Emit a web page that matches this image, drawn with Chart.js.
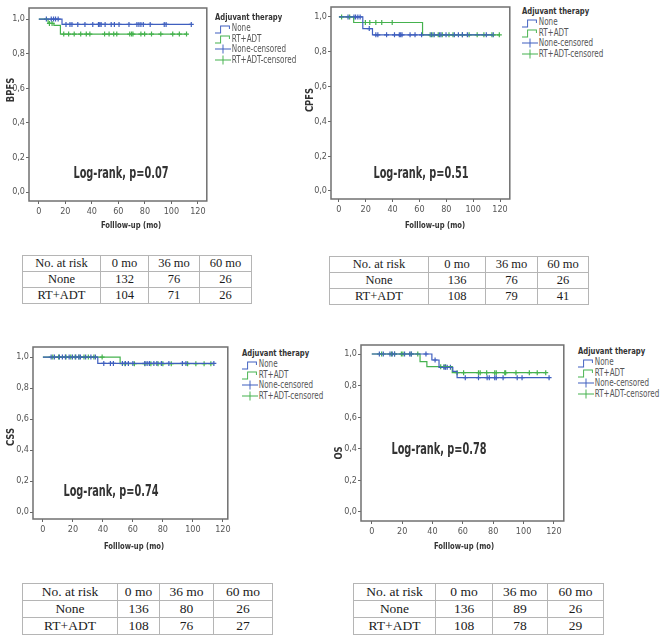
<!DOCTYPE html>
<html>
<head>
<meta charset="utf-8">
<script src="https://cdn.jsdelivr.net/npm/chart.js@4.4.1/dist/chart.umd.min.js"></script>
<style>
  body { margin: 0; width: 664px; height: 644px; background: #fff; position: relative; overflow: hidden;
         font-family: "Liberation Sans Narrow", "DejaVu Sans Condensed", sans-serif; color: #444; }
  canvas { position: absolute; }
  .t { position: absolute; white-space: nowrap; transform: translate(-50%, -50%); }
  .ytitle { font-weight: bold; font-size: 11px; color: #333; transform: translate(-50%, -50%) rotate(-90deg) scaleX(0.85); }
  .xtitle { font-weight: bold; font-size: 9.5px; color: #333; transform: translate(-50%, -50%) scaleX(0.8); }
  .logrank { font-weight: bold; font-size: 15.5px; color: #333; transform: translate(-50%, -50%) scaleX(0.7); }
  .legend { position: absolute; font-size: 10px; color: #555; line-height: 10.4px; white-space: nowrap;
            transform: scaleX(0.8); transform-origin: 0 0; }
  .legend b { display: block; color: #333; font-size: 9.5px; margin-bottom: 1px; }
  .legend div { display: flex; align-items: center; height: 10.4px; }
  .legend svg { width: 20px; height: 10px; margin-right: 1px; }
  table.risk { position: absolute; border-collapse: collapse; font-family: "Liberation Serif", serif; color: #1a1a1a;
               border: 1.5px solid #8a8a8a; table-layout: fixed; }
  table.risk td { border: 1px solid #b5b5b5; text-align: center; padding: 0; }
</style>
</head>
<body>

<canvas id="bpfs" width="212" height="232" style="left:0;top:0"></canvas>
<canvas id="cpfs" width="215" height="232" style="left:300px;top:0"></canvas>
<canvas id="css" width="233" height="220" style="left:0;top:335px"></canvas>
<canvas id="os" width="239" height="220" style="left:330px;top:335px"></canvas>

<div class="t ytitle" style="left:10px;top:90px">BPFS</div>
<div class="t ytitle" style="left:309px;top:100px">CPFS</div>
<div class="t ytitle" style="left:10px;top:437px">CSS</div>
<div class="t ytitle" style="left:338px;top:453px">OS</div>

<div class="t xtitle" style="left:131px;top:224px">Folllow-up (mo)</div>
<div class="t xtitle" style="left:435px;top:224px">Folllow-up (mo)</div>
<div class="t xtitle" style="left:134px;top:545px">Folllow-up (mo)</div>
<div class="t xtitle" style="left:464px;top:545px">Folllow-up (mo)</div>

<div class="t logrank" style="left:121px;top:173px">Log-rank, p=0.07</div>
<div class="t logrank" style="left:421px;top:173px">Log-rank, p=0.51</div>
<div class="t logrank" style="left:111px;top:491px">Log-rank, p=0.74</div>
<div class="t logrank" style="left:439px;top:449px">Log-rank, p=0.78</div>

<div id="legends"></div>
<div id="tables"></div>

<script>
// axis ticks
const xTicks = [0, 20, 40, 60, 80, 100, 120];
const yTicks = [0, 0.2, 0.4, 0.6, 0.8, 1.0];

// BPFS
const bpfsNoneT = [0, 17.5, 115];
const bpfsNoneS = [1, 0.969, 0.969];
const bpfsNoneCens = [5.7, 9.4, 11.1, 12.6, 14.6, 20.5, 23.5, 25, 29.4, 34.8, 40.7, 45, 46, 47, 50, 54.6, 57, 60.5, 68, 74, 75.5, 77, 78.8, 84, 94.6, 96, 115];
const bpfsRtT = [0, 7, 11.4, 16.3, 112];
const bpfsRtS = [1, 0.975, 0.963, 0.913, 0.913];
const bpfsRtCens = [8, 10, 18.8, 22.5, 26.7, 31.6, 35.8, 38.5, 49.6, 53, 56.5, 58.8, 68.6, 70, 71, 77, 79.8, 85, 92, 101, 106, 111.4];

// CPFS
const cpfsNoneT = [0, 17.8, 25, 115];
const cpfsNoneS = [1, 0.933, 0.897, 0.897];
const cpfsNoneCens = [6.8, 11.2, 12.4, 14.1, 15.8, 22.6, 27.5, 29, 35.5, 41.4, 45, 46, 47, 53, 56.7, 61.6, 68.9, 71, 75, 76, 79.8, 86, 89, 92, 95.7, 109.8, 115];
const cpfsRtT = [0, 11, 62.3, 120];
const cpfsRtS = [1, 0.968, 0.897, 0.897];
const cpfsRtCens = [2, 8, 19.7, 23, 27.5, 31.9, 39.7, 68, 70, 74, 77, 82, 85, 92, 97, 103, 108, 114, 119.5];

// CSS
const cssNoneT = [0, 36.6, 114];
const cssNoneS = [1, 0.959, 0.959];
const cssNoneCens = [5.5, 7.7, 11, 13, 15, 17.5, 19.7, 21.9, 24, 25, 28.5, 32, 35, 40.6, 45, 47, 53, 55, 57, 60, 68, 69.5, 71, 74, 76, 79, 84, 93, 95.4, 114];
const cssRtT = [0, 51.5, 114];
const cssRtS = [1, 0.957, 0.957];
const cssRtCens = [6.6, 10.5, 15.4, 18.6, 21.5, 24, 27.4, 30.3, 34, 39.5, 54.8, 61, 68, 72, 76.8, 80, 85.6, 96.5, 102, 107.5, 112];

// OS
const osNoneT = [0, 39.6, 44.3, 53.4, 56.2, 117.4];
const osNoneS = [1, 0.962, 0.916, 0.89, 0.85, 0.85];
const osNoneCens = [5, 7.6, 12, 13.5, 15, 21.6, 25, 26, 35.7, 41.7, 47.6, 48.6, 49.7, 51.8, 61.6, 70.3, 76, 77.4, 81, 82, 86.5, 95.8, 99, 116.8];
const osRtT = [0, 31.8, 36.3, 53, 114.6];
const osRtS = [1, 0.952, 0.92, 0.882, 0.882];
const osRtCens = [6.5, 13, 15, 19.5, 20.5, 26, 30.3, 45.4, 47.6, 48.6, 56.2, 60.5, 70.3, 71.4, 75.7, 81, 82, 87.6, 88.2, 95, 103.8, 109, 114.6];

// numbers at risk
const riskHead = ["No. at risk", "0 mo", "36 mo", "60 mo"];
const riskGroups = ["None", "RT+ADT"];
const bpfsRisk = [[132, 76, 26], [104, 71, 26]];
const cpfsRisk = [[136, 76, 26], [108, 79, 41]];
const cssRisk = [[136, 80, 26], [108, 76, 27]];
const osRisk = [[136, 89, 26], [108, 78, 29]];

const legendLabels = ["None", "RT+ADT", "None-censored", "RT+ADT-censored"];

const BLUE = "#3f5fbf";
const GREEN = "#45b24e";
const FONT = '"Liberation Sans Narrow", "DejaVu Sans Condensed", sans-serif';

function levelAt(T, S, t) {
    let s = S[0];
    for (let i = 0; i < T.length; i++) if (T[i] <= t) s = S[i];
    return s;
}

// plot frame round the chart area
const frame = {
    id: "frame",
    beforeDatasetsDraw(chart) {
        const a = chart.chartArea, ctx = chart.ctx;
        ctx.save();
        ctx.strokeStyle = "#707070";
        ctx.lineWidth = 1.5;
        ctx.strokeRect(a.left, a.top, a.right - a.left, a.bottom - a.top);
        ctx.restore();
    }
};

function makeKM(id, p) {
    const line = (T, S, col) => ({
        data: T.map((t, i) => ({ x: t, y: S[i] })),
        borderColor: col, borderWidth: 1.2, stepped: true, pointRadius: 0, fill: false
    });
    const cens = (C, T, S, col) => ({
        data: C.map(t => ({ x: t, y: levelAt(T, S, t) })),
        showLine: false, pointStyle: "cross", pointRadius: 2.5,
        borderColor: col, backgroundColor: col, pointBorderWidth: 1.2
    });
    const tickFont = { family: FONT, size: 9 };
    new Chart(id, {
        type: "line",
        data: {
            datasets: [
                line(p.noneT, p.noneS, BLUE),
                line(p.rtT, p.rtS, GREEN),
                cens(p.noneC, p.noneT, p.noneS, BLUE),
                cens(p.rtC, p.rtT, p.rtS, GREEN)
            ]
        },
        options: {
            responsive: false,
            animation: false,
            events: [],
            layout: { padding: { top: p.top, right: 2, left: 0, bottom: 0 } },
            plugins: { legend: { display: false }, tooltip: { enabled: false } },
            scales: {
                x: {
                    type: "linear", min: p.xr[0], max: p.xr[1],
                    afterBuildTicks: s => { s.ticks = xTicks.map(v => ({ value: v })); },
                    afterFit: s => { s.height = p.xh; },
                    border: { display: false },
                    grid: { drawOnChartArea: false, tickLength: 3, color: "#666" },
                    ticks: { font: tickFont, color: "#555", padding: 2, maxRotation: 0 }
                },
                y: {
                    min: p.yr[0], max: p.yr[1],
                    afterBuildTicks: s => { s.ticks = yTicks.map(v => ({ value: v })); },
                    afterFit: s => { s.width = p.yw; },
                    border: { display: false },
                    grid: { drawOnChartArea: false, tickLength: 3, color: "#666" },
                    ticks: { font: tickFont, color: "#555", padding: 1,
                             callback: v => v.toFixed(1).replace(".", ",") }
                }
            }
        },
        plugins: [frame]
    });
}

makeKM("bpfs", { noneT: bpfsNoneT, noneS: bpfsNoneS, noneC: bpfsNoneCens, rtT: bpfsRtT, rtS: bpfsRtS, rtC: bpfsRtCens,
                 xr: [-7.4, 126.7], yr: [-0.052, 1.064], top: 8, yw: 29, xh: 31 });
makeKM("cpfs", { noneT: cpfsNoneT, noneS: cpfsNoneS, noneC: cpfsNoneCens, rtT: cpfsRtT, rtS: cpfsRtS, rtC: cpfsRtCens,
                 xr: [-5.9, 127.3], yr: [-0.046, 1.057], top: 7, yw: 31, xh: 33 });
makeKM("css", { noneT: cssNoneT, noneS: cssNoneS, noneC: cssNoneCens, rtT: cssRtT, rtS: cssRtS, rtC: cssRtCens,
                xr: [-6.6, 123.3], yr: [-0.045, 1.065], top: 12, yw: 33, xh: 36 });
makeKM("os", { noneT: osNoneT, noneS: osNoneS, noneC: osNoneCens, rtT: osRtT, rtS: osRtS, rtC: osRtCens,
               xr: [-7.1, 126.5], yr: [-0.057, 1.057], top: 10, yw: 31, xh: 34 });

// legends (HTML, with small svg keys)
const stepKey = c => `<svg viewBox="0 0 20 10"><path d="M0 9H7V2H18V5" fill="none" stroke="${c}" stroke-width="1.2"/></svg>`;
const censKey = c => `<svg viewBox="0 0 20 10"><path d="M0 5H20M10 0.5V9.5" fill="none" stroke="${c}" stroke-width="1.2"/></svg>`;
const legendKeys = [stepKey(BLUE), stepKey(GREEN), censKey(BLUE), censKey(GREEN)];
[[215, 12], [522, 6], [242, 348], [578, 346]].forEach(([l, t]) => {
    const d = document.createElement("div");
    d.className = "legend";
    d.style.left = l + "px";
    d.style.top = t + "px";
    d.innerHTML = "<b>Adjuvant therapy</b>" +
        legendLabels.map((s, i) => `<div>${legendKeys[i]}<span>${s}</span></div>`).join("");
    document.getElementById("legends").appendChild(d);
});

// number-at-risk tables
function riskTable(rows, box, cols, fs) {
    const tb = document.createElement("table");
    tb.className = "risk";
    tb.style.left = box[0] + "px";
    tb.style.top = box[1] + "px";
    tb.style.width = box[2] + "px";
    tb.style.fontSize = fs + "px";
    let h = "<colgroup>" + cols.map(w => `<col style="width:${w}px">`).join("") + "</colgroup>";
    h += `<tr style="height:${box[3]}px">` + riskHead.map(s => `<td>${s}</td>`).join("") + "</tr>";
    rows.forEach((r, i) => {
        h += `<tr style="height:${box[3]}px"><td>${riskGroups[i]}</td>` + r.map(v => `<td>${v}</td>`).join("") + "</tr>";
    });
    tb.innerHTML = h;
    document.getElementById("tables").appendChild(tb);
}
riskTable(bpfsRisk, [22, 255, 229, 16], [78, 48, 51, 52], 12.5);
riskTable(cpfsRisk, [329, 256, 259, 16], [99, 57, 52, 51], 12.5);
riskTable(cssRisk, [22, 583, 250, 16.7], [95, 42, 54, 59], 13.5);
riskTable(osRisk, [353, 583, 250, 16.7], [82, 57, 55, 56], 13.5);
</script>
</body>
</html>
